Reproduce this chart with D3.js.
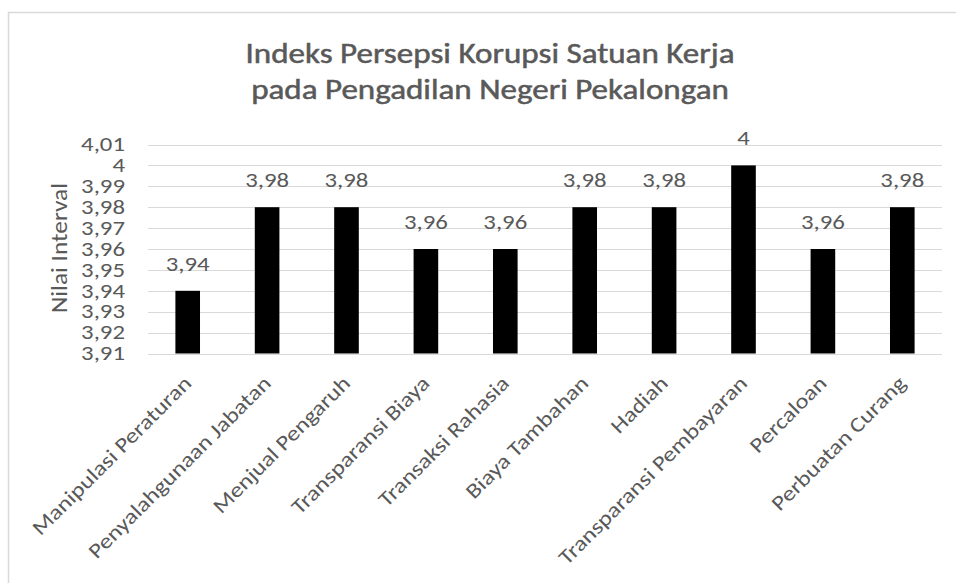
<!DOCTYPE html>
<html>
<head>
<meta charset="utf-8">
<script src="https://cdn.jsdelivr.net/npm/d3@7"></script>
<style>
  body { margin: 0; background: #fff; }
  text { font-family: Carlito, Calibri, "Open Sans", sans-serif; fill: #595959; }
</style>
</head>
<body>
<svg></svg>
<script>
// categories and values
const categories = [
  "Manipulasi Peraturan", "Penyalahgunaan Jabatan", "Menjual Pengaruh",
  "Transparansi Biaya", "Transaksi Rahasia", "Biaya Tambahan",
  "Hadiah", "Transparansi Pembayaran", "Percaloan", "Perbuatan Curang"];
const values = [3.94, 3.98, 3.98, 3.96, 3.96, 3.98, 3.98, 4.00, 3.96, 3.98];
const yTicks = [3.91, 3.92, 3.93, 3.94, 3.95, 3.96, 3.97, 3.98, 3.99, 4.00, 4.01];
const titleLines = ["Indeks Persepsi Korupsi Satuan Kerja", "pada Pengadilan Negeri Pekalongan"];
const yTitle = "Nilai Interval";

const width = 956;
const height = 583;
const plot = {left: 148, right: 942, top: 144.5, bottom: 353.5};
// the original font runs wider than Carlito, stretch text along its baseline
const widen = 1.18;

const locale = d3.formatLocale({decimal: ",", thousands: ".", grouping: [3], currency: ["", ""]});
const fmt = locale.format(".2~f");

const svg = d3.select("svg")
  .attr("width", width)
  .attr("height", height);

// chart area border
svg.append("rect")
  .attr("x", 8.5).attr("y", 12.5)
  .attr("width", 1000).attr("height", 700)
  .attr("fill", "#fff")
  .attr("stroke", "#d9d9d9")
  .attr("stroke-width", 1.5);

const x = d3.scaleBand()
  .domain(categories)
  .range([plot.left, plot.right])
  .paddingInner(0.69)
  .paddingOuter(0.345);

const y = d3.scaleLinear()
  .domain([3.91, 4.01])
  .range([plot.bottom, plot.top]);

const cx = d => x(d) + x.bandwidth() / 2;

// gridlines
svg.append("g")
  .selectAll("line")
  .data(yTicks)
  .join("line")
    .attr("x1", plot.left)
    .attr("x2", plot.right)
    .attr("y1", d => Math.round(y(d)) + 0.5)
    .attr("y2", d => Math.round(y(d)) + 0.5)
    .attr("stroke", "#d9d9d9");

// y tick labels
svg.append("g")
  .selectAll("text")
  .data(yTicks)
  .join("text")
    .attr("x", 125)
    .attr("y", d => y(d))
    .attr("dy", "0.32em")
    .attr("text-anchor", "end")
    .attr("font-size", 21)
    .text(d => fmt(d));

// bars
svg.append("g")
  .selectAll("rect")
  .data(values)
  .join("rect")
    .attr("x", (d, i) => x(categories[i]))
    .attr("y", d => y(d))
    .attr("width", x.bandwidth())
    .attr("height", d => y(3.91) - y(d))
    .attr("fill", "#000");

// data labels
svg.append("g")
  .selectAll("text")
  .data(values)
  .join("text")
    .attr("x", (d, i) => cx(categories[i]))
    .attr("y", d => y(d) - 20)
    .attr("text-anchor", "middle")
    .attr("font-size", 21)
    .text(d => fmt(d));

// x labels, rotated
svg.append("g")
  .selectAll("text")
  .data(categories)
  .join("text")
    .attr("transform", d => `translate(${cx(d) + 5}, ${plot.bottom + 31}) rotate(-45)`)
    .attr("text-anchor", "end")
    .attr("font-size", 21)
    .text(d => d);

// axis title
svg.append("text")
  .attr("transform", "translate(67, 248) rotate(-90)")
  .attr("text-anchor", "middle")
  .attr("font-size", 21.5)
  .text(yTitle);

// chart title, a touch heavier like the original
svg.append("g")
  .selectAll("text")
  .data(titleLines)
  .join("text")
    .attr("x", 490)
    .attr("y", (d, i) => 63 + i * 36)
    .attr("text-anchor", "middle")
    .attr("font-size", 28)
    .attr("stroke", "#595959")
    .attr("stroke-width", 0.5)
    .text(d => d);

svg.selectAll("text").each(function() {
  const len = this.getComputedTextLength();
  d3.select(this)
    .attr("textLength", len * widen)
    .attr("lengthAdjust", "spacingAndGlyphs");
});
</script>
</body>
</html>
